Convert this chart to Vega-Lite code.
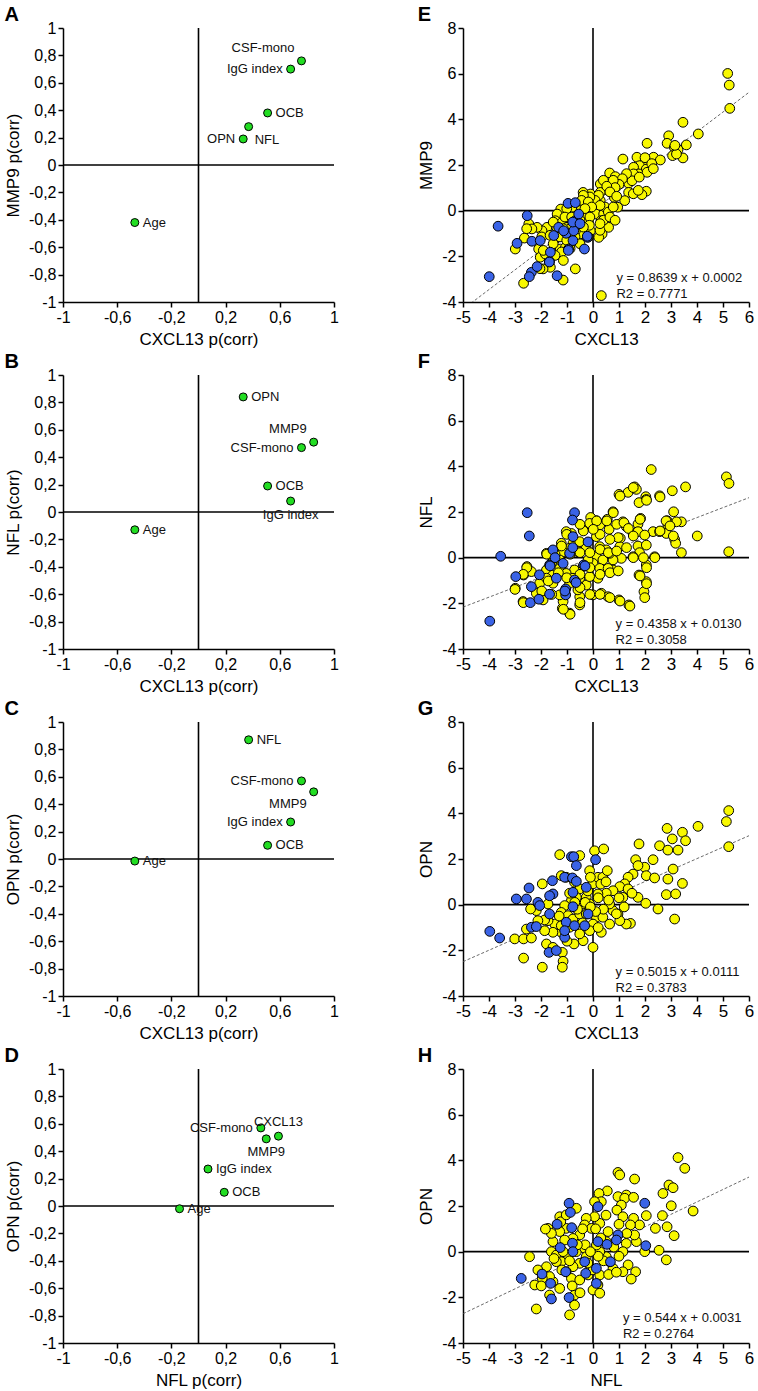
{
"$schema": "https://vega.github.io/schema/vega-lite/v6.json",
"background": "white",
"padding": {"left": 4, "top": 5, "right": 5, "bottom": 5},
"columns": 2,
"spacing": {"row": 73, "column": 129},
"bounds": "flush",
"resolve": {"scale": {"x": "independent", "y": "independent"}},
"config": {
  "view": {"stroke": null},
  "font": "Liberation Sans",
  "title": {"anchor": "start", "frame": "bounds", "fontSize": 20, "fontWeight": "bold", "font": "Liberation Sans", "color": "#000", "offset": -5},
  "axis": {"domainColor": "#000", "domainWidth": 1.5, "tickColor": "#000", "tickWidth": 1.5, "tickSize": 5, "grid": false,
           "labelFont": "Liberation Sans", "labelFontSize": 16, "labelColor": "#000", "labelPadding": 2,
           "titleFont": "Liberation Sans", "titleFontSize": 17, "titleFontWeight": "normal", "titleColor": "#000",
           "labelFlush": false, "labelOverlap": false, "labelBound": false,
           "labelExpr": "replace(toString(datum.value), '.', ',')"},
  "axisX": {"titlePadding": 6},
  "axisY": {"titlePadding": 6},
  "text": {"font": "Liberation Sans", "color": "#111"}
},
"datasets": {
  "A": [{"label":"CSF-mono","x":0.76,"y":0.76,"pos":"ul"},{"label":"IgG index","x":0.68,"y":0.70,"pos":"l"},{"label":"OCB","x":0.51,"y":0.38,"pos":"r"},{"label":"NFL","x":0.37,"y":0.28,"pos":"br"},{"label":"OPN","x":0.33,"y":0.19,"pos":"l"},{"label":"Age","x":-0.47,"y":-0.42,"pos":"r"}],
  "B": [{"label":"OPN","x":0.33,"y":0.84,"pos":"r"},{"label":"MMP9","x":0.85,"y":0.51,"pos":"ul"},{"label":"CSF-mono","x":0.76,"y":0.47,"pos":"l"},{"label":"OCB","x":0.51,"y":0.19,"pos":"r"},{"label":"IgG index","x":0.68,"y":0.08,"pos":"b"},{"label":"Age","x":-0.47,"y":-0.13,"pos":"r"}],
  "C": [{"label":"NFL","x":0.37,"y":0.87,"pos":"r"},{"label":"CSF-mono","x":0.76,"y":0.57,"pos":"l"},{"label":"MMP9","x":0.85,"y":0.49,"pos":"bl"},{"label":"IgG index","x":0.68,"y":0.27,"pos":"l"},{"label":"OCB","x":0.51,"y":0.10,"pos":"r"},{"label":"Age","x":-0.47,"y":-0.015,"pos":"r"}],
  "D": [{"label":"CSF-mono","x":0.46,"y":0.57,"pos":"l"},{"label":"CXCL13","x":0.59,"y":0.51,"pos":"a"},{"label":"MMP9","x":0.50,"y":0.49,"pos":"b"},{"label":"IgG index","x":0.07,"y":0.27,"pos":"r"},{"label":"OCB","x":0.19,"y":0.10,"pos":"r"},{"label":"Age","x":-0.14,"y":-0.02,"pos":"r"}],
  "Eline": [{"x":-5,"y":-4.3193},{"x":6,"y":5.1836}],
  "Fline": [{"x":-5,"y":-2.166},{"x":6,"y":2.6278}],
  "Gline": [{"x":-5,"y":-2.4964},{"x":6,"y":3.0201}],
  "Hline": [{"x":-5,"y":-2.7169},{"x":6,"y":3.2671}],
  "Etext": [{"x":0.9,"y":-2.95,"t":"y = 0.8639 x + 0.0002"},{"x":0.9,"y":-3.65,"t":"R2 = 0.7771"}],
  "Ftext": [{"x":0.87,"y":-2.92,"t":"y = 0.4358 x + 0.0130"},{"x":0.87,"y":-3.6,"t":"R2 = 0.3058"}],
  "Gtext": [{"x":0.87,"y":-2.96,"t":"y = 0.5015 x + 0.0111"},{"x":0.87,"y":-3.65,"t":"R2 = 0.3783"}],
  "Htext": [{"x":1.15,"y":-2.92,"t":"y = 0.544 x + 0.0031"},{"x":1.15,"y":-3.62,"t":"R2 = 0.2764"}],
  "E": [
{"x":5.18,"y":6.01,"g":"Y"},{"x":5.24,"y":5.5,"g":"Y"},{"x":5.26,"y":4.48,"g":"Y"},{"x":3.46,"y":3.87,"g":"Y"},{"x":4.05,"y":3.36,"g":"Y"},{"x":2.91,"y":3.28,"g":"Y"},{"x":2.85,"y":2.95,"g":"Y"},{"x":3.59,"y":2.88,"g":"Y"},{"x":3.13,"y":2.77,"g":"Y"},{"x":3.27,"y":2.67,"g":"Y"},{"x":3.06,"y":2.41,"g":"Y"},{"x":3.46,"y":2.31,"g":"Y"},{"x":3.21,"y":2.48,"g":"Y"},{"x":2.08,"y":2.95,"g":"Y"},{"x":1.15,"y":2.26,"g":"Y"},{"x":1.69,"y":2.34,"g":"Y"},{"x":2.33,"y":2.34,"g":"Y"},{"x":2.59,"y":2.22,"g":"Y"},{"x":2.01,"y":2.19,"g":"Y"},{"x":1.79,"y":1.97,"g":"Y"},{"x":2.05,"y":1.82,"g":"Y"},{"x":1.56,"y":1.9,"g":"Y"},{"x":1.76,"y":1.61,"g":"Y"},{"x":2.08,"y":1.68,"g":"Y"},{"x":2.05,"y":0.85,"g":"Y"},{"x":1.88,"y":0.7,"g":"Y"},{"x":0.64,"y":1.65,"g":"Y"},{"x":0.86,"y":1.49,"g":"Y"},{"x":1.15,"y":1.31,"g":"Y"},{"x":1.37,"y":1.2,"g":"Y"},{"x":1.56,"y":1.61,"g":"Y"},{"x":1.5,"y":1.31,"g":"Y"},{"x":1.37,"y":0.8,"g":"Y"},{"x":1.22,"y":0.44,"g":"Y"},{"x":0.95,"y":0.15,"g":"Y"},{"x":0.79,"y":0.73,"g":"Y"},{"x":0.67,"y":1.09,"g":"Y"},{"x":0.28,"y":1.17,"g":"Y"},{"x":0.54,"y":0.91,"g":"Y"},{"x":0.82,"y":0.58,"g":"Y"},{"x":0.28,"y":0.8,"g":"Y"},{"x":0.03,"y":0.58,"g":"Y"},{"x":-0.1,"y":0.73,"g":"Y"},{"x":0.28,"y":0.44,"g":"Y"},{"x":0.13,"y":-0.15,"g":"Y"},{"x":0.41,"y":-0.15,"g":"Y"},{"x":0.31,"y":-0.44,"g":"Y"},{"x":0.6,"y":-0.73,"g":"Y"},{"x":0.35,"y":-1.02,"g":"Y"},{"x":0.22,"y":-1.17,"g":"Y"},{"x":-0.38,"y":0.8,"g":"Y"},{"x":-0.49,"y":0.29,"g":"Y"},{"x":-0.51,"y":0,"g":"Y"},{"x":-0.81,"y":0.15,"g":"Y"},{"x":-1.24,"y":0.07,"g":"Y"},{"x":-1.38,"y":-0.15,"g":"Y"},{"x":-1.45,"y":-0.44,"g":"Y"},{"x":-1.19,"y":-0.51,"g":"Y"},{"x":-1.0,"y":-0.29,"g":"Y"},{"x":-0.81,"y":-0.44,"g":"Y"},{"x":-0.62,"y":-0.73,"g":"Y"},{"x":-0.36,"y":-0.29,"g":"Y"},{"x":-0.23,"y":-0.51,"g":"Y"},{"x":-0.1,"y":-0.88,"g":"Y"},{"x":-0.49,"y":-1.02,"g":"Y"},{"x":-0.68,"y":-0.88,"g":"Y"},{"x":-1.0,"y":-0.73,"g":"Y"},{"x":-1.26,"y":-1.02,"g":"Y"},{"x":-1.45,"y":-1.24,"g":"Y"},{"x":-1.26,"y":-1.68,"g":"Y"},{"x":-1.06,"y":-1.61,"g":"Y"},{"x":-0.87,"y":-1.46,"g":"Y"},{"x":-0.68,"y":-2.55,"g":"Y"},{"x":-1.15,"y":-3.04,"g":"Y"},{"x":-1.64,"y":-2.48,"g":"Y"},{"x":-1.92,"y":-2.55,"g":"Y"},{"x":-2.09,"y":-1.68,"g":"Y"},{"x":-2.03,"y":-2.04,"g":"Y"},{"x":-1.83,"y":-1.9,"g":"Y"},{"x":-1.77,"y":-0.73,"g":"Y"},{"x":-1.96,"y":-0.88,"g":"Y"},{"x":-2.15,"y":-0.73,"g":"Y"},{"x":-2.47,"y":-0.58,"g":"Y"},{"x":-2.35,"y":-0.8,"g":"Y"},{"x":-2.64,"y":-1.2,"g":"Y"},{"x":-2.99,"y":-1.68,"g":"Y"},{"x":-2.67,"y":-3.18,"g":"Y"},{"x":0.32,"y":-3.72,"g":"Y"},
{"x":3.15,"y":2.86,"g":"Y"},{"x":2.0,"y":2.32,"g":"Y"},{"x":2.26,"y":2.06,"g":"Y"},{"x":2.32,"y":1.84,"g":"Y"},{"x":1.78,"y":1.47,"g":"Y"},{"x":1.29,"y":1.62,"g":"Y"},{"x":1.13,"y":1.4,"g":"Y"},{"x":1.0,"y":1.15,"g":"Y"},{"x":0.78,"y":1.33,"g":"Y"},{"x":0.85,"y":1.01,"g":"Y"},{"x":0.4,"y":1.33,"g":"Y"},{"x":0.53,"y":1.07,"g":"Y"},{"x":0.65,"y":0.82,"g":"Y"},{"x":0.91,"y":0.63,"g":"Y"},{"x":1.55,"y":0.74,"g":"Y"},{"x":1.74,"y":0.89,"g":"Y"},{"x":0.21,"y":0.67,"g":"Y"},{"x":0.08,"y":0.45,"g":"Y"},{"x":0.46,"y":0.16,"g":"Y"},{"x":0.27,"y":0.23,"g":"Y"},{"x":-0.12,"y":0.6,"g":"Y"},{"x":-0.37,"y":0.67,"g":"Y"},{"x":-0.44,"y":0.45,"g":"Y"},{"x":-0.18,"y":0.38,"g":"Y"},{"x":-0.05,"y":0.16,"g":"Y"},{"x":-0.31,"y":0.09,"g":"Y"},{"x":-1.01,"y":0.09,"g":"Y"},{"x":-1.08,"y":-0.28,"g":"Y"},{"x":-0.82,"y":-0.28,"g":"Y"},{"x":-0.5,"y":-0.42,"g":"Y"},{"x":-0.12,"y":-0.28,"g":"Y"},{"x":-0.14,"y":-0.64,"g":"Y"},{"x":-0.37,"y":-0.72,"g":"Y"},{"x":-0.88,"y":-0.79,"g":"Y"},{"x":-1.14,"y":-0.79,"g":"Y"},{"x":-1.4,"y":-0.72,"g":"Y"},{"x":-1.53,"y":-0.5,"g":"Y"},{"x":-2.55,"y":-0.79,"g":"Y"},{"x":-1.97,"y":-1.15,"g":"Y"},{"x":-1.65,"y":-1.08,"g":"Y"},{"x":-1.53,"y":-1.45,"g":"Y"},{"x":-1.27,"y":-1.15,"g":"Y"},{"x":-1.01,"y":-1.3,"g":"Y"},{"x":-0.69,"y":-1.15,"g":"Y"},{"x":-0.18,"y":-1.15,"g":"Y"},{"x":-0.5,"y":-1.45,"g":"Y"},{"x":-0.88,"y":-1.66,"g":"Y"},{"x":-1.21,"y":-1.81,"g":"Y"},{"x":-1.46,"y":-1.96,"g":"Y"},{"x":-1.91,"y":-1.74,"g":"Y"},{"x":-2.04,"y":-2.54,"g":"Y"},{"x":-1.14,"y":-2.18,"g":"Y"},{"x":0.27,"y":-0.86,"g":"Y"},{"x":0.4,"y":-0.42,"g":"Y"},{"x":0.59,"y":-0.06,"g":"Y"},{"x":0.78,"y":0.16,"g":"Y"},{"x":0.65,"y":-0.28,"g":"Y"},{"x":0.85,"y":-0.42,"g":"Y"},{"x":0.27,"y":-0.57,"g":"Y"},
{"x":-3.65,"y":-0.68,"g":"B"},{"x":-3.99,"y":-2.89,"g":"B"},{"x":-2.92,"y":-1.43,"g":"B"},{"x":-2.53,"y":-0.22,"g":"B"},{"x":-2.35,"y":-1.34,"g":"B"},{"x":-2.03,"y":-1.31,"g":"B"},{"x":-2.37,"y":-2.7,"g":"B"},{"x":-2.45,"y":-2.89,"g":"B"},{"x":-2.15,"y":-2.45,"g":"B"},{"x":-1.67,"y":-2.23,"g":"B"},{"x":-1.64,"y":-1.82,"g":"B"},{"x":-1.51,"y":-1.09,"g":"B"},{"x":-1.38,"y":-2.85,"g":"B"},{"x":-1.03,"y":-0.99,"g":"B"},{"x":-0.94,"y":-1.68,"g":"B"},{"x":-0.77,"y":-1.31,"g":"B"},{"x":-0.74,"y":-0.88,"g":"B"},{"x":-0.68,"y":-0.44,"g":"B"},{"x":-0.55,"y":-0.15,"g":"B"},{"x":-0.96,"y":0.32,"g":"B"},{"x":-0.68,"y":0.35,"g":"B"},{"x":-0.33,"y":-1.68,"g":"B"},{"x":-0.21,"y":-1.17,"g":"B"},{"x":-1.32,"y":-0.73,"g":"B"},{"x":-1.13,"y":-0.88,"g":"B"},{"x":-0.78,"y":-0.5,"g":"B"},{"x":-0.5,"y":-0.57,"g":"B"},{"x":-0.22,"y":-1.12,"g":"B"},{"x":-0.95,"y":-1.74,"g":"B"},{"x":-1.68,"y":-2.25,"g":"B"}
  ],
  "F": [
{"x":5.13,"y":3.54,"g":"Y"},{"x":5.23,"y":3.25,"g":"Y"},{"x":5.22,"y":0.26,"g":"Y"},{"x":3.56,"y":3.1,"g":"Y"},{"x":3.05,"y":2.93,"g":"Y"},{"x":2.24,"y":3.86,"g":"Y"},{"x":1.6,"y":3.1,"g":"Y"},{"x":1.35,"y":2.86,"g":"Y"},{"x":1.67,"y":2.99,"g":"Y"},{"x":1.0,"y":2.77,"g":"Y"},{"x":2.03,"y":2.67,"g":"Y"},{"x":2.05,"y":2.55,"g":"Y"},{"x":2.56,"y":2.71,"g":"Y"},{"x":1.77,"y":2.41,"g":"Y"},{"x":3.1,"y":2.01,"g":"Y"},{"x":3.4,"y":1.57,"g":"Y"},{"x":3.21,"y":1.57,"g":"Y"},{"x":2.85,"y":1.62,"g":"Y"},{"x":2.88,"y":1.43,"g":"Y"},{"x":2.82,"y":1.06,"g":"Y"},{"x":3.14,"y":0.8,"g":"Y"},{"x":3.18,"y":0.63,"g":"Y"},{"x":3.4,"y":0.22,"g":"Y"},{"x":4.01,"y":0.95,"g":"Y"},{"x":2.31,"y":1.14,"g":"Y"},{"x":2.56,"y":1.14,"g":"Y"},{"x":1.83,"y":1.72,"g":"Y"},{"x":1.73,"y":1.47,"g":"Y"},{"x":1.54,"y":1.06,"g":"Y"},{"x":1.15,"y":1.57,"g":"Y"},{"x":1.28,"y":1.36,"g":"Y"},{"x":1.73,"y":1.14,"g":"Y"},{"x":1.99,"y":0.99,"g":"Y"},{"x":1.73,"y":0.51,"g":"Y"},{"x":1.79,"y":0.22,"g":"Y"},{"x":1.54,"y":0.04,"g":"Y"},{"x":2.37,"y":0.04,"g":"Y"},{"x":2.05,"y":-0.32,"g":"Y"},{"x":1.77,"y":-0.76,"g":"Y"},{"x":2.05,"y":-1.05,"g":"Y"},{"x":1.96,"y":-1.49,"g":"Y"},{"x":1.99,"y":-1.75,"g":"Y"},{"x":1.38,"y":-2.07,"g":"Y"},{"x":1.0,"y":-1.85,"g":"Y"},{"x":2.05,"y":0.55,"g":"Y"},{"x":1.05,"y":0.85,"g":"Y"},{"x":1.03,"y":0.48,"g":"Y"},{"x":1.09,"y":-0.03,"g":"Y"},{"x":0.77,"y":-0.1,"g":"Y"},{"x":0.77,"y":-0.54,"g":"Y"},{"x":0.77,"y":2.01,"g":"Y"},{"x":0.55,"y":1.68,"g":"Y"},{"x":0.62,"y":1.24,"g":"Y"},{"x":0.13,"y":1.62,"g":"Y"},{"x":-0.09,"y":1.76,"g":"Y"},{"x":-0.13,"y":1.5,"g":"Y"},{"x":0.26,"y":1.43,"g":"Y"},{"x":0.13,"y":0.92,"g":"Y"},{"x":-0.38,"y":1.21,"g":"Y"},{"x":-0.83,"y":1.06,"g":"Y"},{"x":-1.03,"y":1.14,"g":"Y"},{"x":-1.22,"y":0.63,"g":"Y"},{"x":-0.77,"y":0.63,"g":"Y"},{"x":-0.51,"y":0.7,"g":"Y"},{"x":-0.26,"y":0.41,"g":"Y"},{"x":0.26,"y":0.48,"g":"Y"},{"x":0.51,"y":0.34,"g":"Y"},{"x":0.64,"y":0.19,"g":"Y"},{"x":0.13,"y":0.04,"g":"Y"},{"x":0.38,"y":-0.1,"g":"Y"},{"x":0,"y":-0.25,"g":"Y"},{"x":0.26,"y":-0.47,"g":"Y"},{"x":0.58,"y":-0.47,"g":"Y"},{"x":0.19,"y":-0.9,"g":"Y"},{"x":0.32,"y":-1.56,"g":"Y"},{"x":0.58,"y":-1.71,"g":"Y"},{"x":0,"y":-1.63,"g":"Y"},{"x":-0.51,"y":-1.71,"g":"Y"},{"x":-0.26,"y":-1.2,"g":"Y"},{"x":-0.13,"y":-0.83,"g":"Y"},{"x":-0.51,"y":-0.9,"g":"Y"},{"x":-0.71,"y":-0.54,"g":"Y"},{"x":-0.38,"y":-0.39,"g":"Y"},{"x":-0.19,"y":-0.1,"g":"Y"},{"x":-0.58,"y":0.26,"g":"Y"},{"x":-0.9,"y":0.41,"g":"Y"},{"x":-1.15,"y":0.26,"g":"Y"},{"x":-1.28,"y":-0.1,"g":"Y"},{"x":-1.54,"y":-0.1,"g":"Y"},{"x":-1.79,"y":0.19,"g":"Y"},{"x":-1.6,"y":-0.25,"g":"Y"},{"x":-1.79,"y":-0.54,"g":"Y"},{"x":-1.54,"y":-0.76,"g":"Y"},{"x":-1.28,"y":-0.47,"g":"Y"},{"x":-1.03,"y":-0.69,"g":"Y"},{"x":-0.9,"y":-1.12,"g":"Y"},{"x":-0.77,"y":-0.9,"g":"Y"},{"x":-0.58,"y":-1.41,"g":"Y"},{"x":-0.51,"y":-2.07,"g":"Y"},{"x":-0.9,"y":-2.43,"g":"Y"},{"x":-1.18,"y":-2.22,"g":"Y"},{"x":-1.15,"y":-1.92,"g":"Y"},{"x":-1.28,"y":-1.63,"g":"Y"},{"x":-1.54,"y":-1.12,"g":"Y"},{"x":-1.99,"y":-1.49,"g":"Y"},{"x":-1.92,"y":-1.85,"g":"Y"},{"x":-2.18,"y":-1.56,"g":"Y"},{"x":-2.05,"y":-1.12,"g":"Y"},{"x":-1.79,"y":-0.9,"g":"Y"},{"x":-2.54,"y":-0.39,"g":"Y"},{"x":-2.67,"y":-0.76,"g":"Y"},{"x":-2.37,"y":-0.61,"g":"Y"},{"x":-2.99,"y":-1.34,"g":"Y"},{"x":-2.69,"y":-1.92,"g":"Y"},
{"x":1.04,"y":2.7,"g":"Y"},{"x":1.55,"y":3.07,"g":"Y"},{"x":2.06,"y":2.51,"g":"Y"},{"x":2.58,"y":2.66,"g":"Y"},{"x":0.78,"y":1.97,"g":"Y"},{"x":0.14,"y":1.61,"g":"Y"},{"x":0.53,"y":1.61,"g":"Y"},{"x":0.91,"y":1.46,"g":"Y"},{"x":1.19,"y":1.53,"g":"Y"},{"x":1.36,"y":1.28,"g":"Y"},{"x":1.81,"y":1.68,"g":"Y"},{"x":2.58,"y":1.17,"g":"Y"},{"x":2.81,"y":1.61,"g":"Y"},{"x":3.09,"y":0.95,"g":"Y"},{"x":2.96,"y":1.39,"g":"Y"},{"x":1.55,"y":0.95,"g":"Y"},{"x":0.97,"y":0.88,"g":"Y"},{"x":0.65,"y":0.8,"g":"Y"},{"x":0.27,"y":1.02,"g":"Y"},{"x":0.01,"y":1.24,"g":"Y"},{"x":-0.37,"y":1.17,"g":"Y"},{"x":-0.5,"y":1.46,"g":"Y"},{"x":-1.01,"y":1.02,"g":"Y"},{"x":-1.21,"y":0.51,"g":"Y"},{"x":-1.46,"y":0.15,"g":"Y"},{"x":-1.78,"y":0.15,"g":"Y"},{"x":-0.88,"y":0.15,"g":"Y"},{"x":-0.5,"y":0.22,"g":"Y"},{"x":-0.12,"y":0.22,"g":"Y"},{"x":0.27,"y":0.36,"g":"Y"},{"x":0.59,"y":0.22,"g":"Y"},{"x":0.91,"y":0.29,"g":"Y"},{"x":1.29,"y":0.44,"g":"Y"},{"x":1.55,"y":0,"g":"Y"},{"x":1.94,"y":0,"g":"Y"},{"x":2.38,"y":0,"g":"Y"},{"x":1.81,"y":-0.8,"g":"Y"},{"x":2.06,"y":-0.44,"g":"Y"},{"x":2.06,"y":-1.14,"g":"Y"},{"x":-2.55,"y":-0.44,"g":"Y"},{"x":-2.68,"y":-0.73,"g":"Y"},{"x":-3.0,"y":-1.39,"g":"Y"},{"x":-2.68,"y":-1.97,"g":"Y"},{"x":-1.72,"y":-1.02,"g":"Y"},{"x":-1.33,"y":-0.66,"g":"Y"},{"x":-1.01,"y":-0.88,"g":"Y"},{"x":-0.5,"y":-0.73,"g":"Y"},{"x":-0.12,"y":-0.44,"g":"Y"},{"x":0.27,"y":-0.73,"g":"Y"},{"x":0.65,"y":-0.66,"g":"Y"},{"x":0.97,"y":-0.58,"g":"Y"},{"x":-0.5,"y":-1.31,"g":"Y"},{"x":-0.12,"y":-1.61,"g":"Y"},{"x":0.27,"y":-1.61,"g":"Y"},{"x":0.65,"y":-1.75,"g":"Y"},{"x":1.04,"y":-1.9,"g":"Y"},{"x":1.42,"y":-2.12,"g":"Y"},{"x":-0.5,"y":-1.97,"g":"Y"},{"x":-0.88,"y":-2.48,"g":"Y"},{"x":-1.14,"y":-2.26,"g":"Y"},{"x":-1.59,"y":-1.61,"g":"Y"},{"x":-1.97,"y":-1.46,"g":"Y"},
{"x":-2.53,"y":1.97,"g":"B"},{"x":-2.45,"y":0.95,"g":"B"},{"x":-3.55,"y":0.06,"g":"B"},{"x":-2.97,"y":-0.83,"g":"B"},{"x":-2.37,"y":-1.27,"g":"B"},{"x":-2.41,"y":-1.97,"g":"B"},{"x":-3.97,"y":-2.78,"g":"B"},{"x":-2.06,"y":-0.75,"g":"B"},{"x":-1.67,"y":-0.32,"g":"B"},{"x":-1.67,"y":-1.6,"g":"B"},{"x":-2.08,"y":-1.82,"g":"B"},{"x":-1.41,"y":-0.9,"g":"B"},{"x":-1.05,"y":-1.37,"g":"B"},{"x":-1.05,"y":-1.63,"g":"B"},{"x":-0.71,"y":1.97,"g":"B"},{"x":-0.79,"y":1.65,"g":"B"},{"x":-0.77,"y":0.92,"g":"B"},{"x":-0.9,"y":0.19,"g":"B"},{"x":-0.71,"y":-0.98,"g":"B"},{"x":-0.36,"y":-0.32,"g":"B"},{"x":-0.19,"y":0.69,"g":"B"},{"x":-1.15,"y":-0.25,"g":"B"},{"x":-1.54,"y":0.34,"g":"B"},{"x":-0.78,"y":0.44,"g":"B"},{"x":-1.65,"y":-0.36,"g":"B"},{"x":-1.08,"y":-1.46,"g":"B"},{"x":-0.65,"y":-1.09,"g":"B"},{"x":-0.31,"y":-0.36,"g":"B"},{"x":-1.46,"y":0,"g":"B"}
  ],
  "G": [
{"x":5.22,"y":4.12,"g":"Y"},{"x":5.13,"y":3.64,"g":"Y"},{"x":5.22,"y":2.54,"g":"Y"},{"x":4.04,"y":3.43,"g":"Y"},{"x":2.85,"y":3.34,"g":"Y"},{"x":3.44,"y":3.17,"g":"Y"},{"x":3.56,"y":2.8,"g":"Y"},{"x":3.05,"y":2.88,"g":"Y"},{"x":2.56,"y":2.58,"g":"Y"},{"x":2.88,"y":2.39,"g":"Y"},{"x":3.27,"y":2.39,"g":"Y"},{"x":1.77,"y":2.66,"g":"Y"},{"x":2.31,"y":1.97,"g":"Y"},{"x":1.99,"y":1.64,"g":"Y"},{"x":1.64,"y":1.97,"g":"Y"},{"x":1.73,"y":1.71,"g":"Y"},{"x":1.54,"y":1.34,"g":"Y"},{"x":1.35,"y":1.2,"g":"Y"},{"x":2.05,"y":1.27,"g":"Y"},{"x":2.37,"y":1.17,"g":"Y"},{"x":3.08,"y":1.56,"g":"Y"},{"x":3.44,"y":0.93,"g":"Y"},{"x":2.88,"y":1.12,"g":"Y"},{"x":2.82,"y":0.44,"g":"Y"},{"x":3.18,"y":0.47,"g":"Y"},{"x":3.14,"y":-0.63,"g":"Y"},{"x":2.5,"y":-0.19,"g":"Y"},{"x":2.03,"y":0.06,"g":"Y"},{"x":1.73,"y":0.32,"g":"Y"},{"x":1.22,"y":0.91,"g":"Y"},{"x":1.03,"y":0.79,"g":"Y"},{"x":0.77,"y":0.61,"g":"Y"},{"x":1.35,"y":0.69,"g":"Y"},{"x":1.15,"y":0.32,"g":"Y"},{"x":1.44,"y":-0.82,"g":"Y"},{"x":1.28,"y":-0.85,"g":"Y"},{"x":0.96,"y":-0.41,"g":"Y"},{"x":1.03,"y":-0.7,"g":"Y"},{"x":0.77,"y":-0.26,"g":"Y"},{"x":0.64,"y":0.03,"g":"Y"},{"x":0.51,"y":0.5,"g":"Y"},{"x":0.19,"y":0.47,"g":"Y"},{"x":0,"y":0.91,"g":"Y"},{"x":0.19,"y":1.2,"g":"Y"},{"x":0.38,"y":1.2,"g":"Y"},{"x":-0.13,"y":1.49,"g":"Y"},{"x":-0.1,"y":1.2,"g":"Y"},{"x":0.06,"y":2.36,"g":"Y"},{"x":0.41,"y":2.44,"g":"Y"},{"x":0.55,"y":1.49,"g":"Y"},{"x":-0.51,"y":2.15,"g":"Y"},{"x":-1.28,"y":2.19,"g":"Y"},{"x":-1.22,"y":1.27,"g":"Y"},{"x":-1.03,"y":1.2,"g":"Y"},{"x":-0.71,"y":0.98,"g":"Y"},{"x":-0.51,"y":0.69,"g":"Y"},{"x":-0.26,"y":0.32,"g":"Y"},{"x":-0.13,"y":0.03,"g":"Y"},{"x":-0.38,"y":0.03,"g":"Y"},{"x":-0.64,"y":0.32,"g":"Y"},{"x":-0.83,"y":0.18,"g":"Y"},{"x":-1.09,"y":-0.04,"g":"Y"},{"x":-1.22,"y":-0.34,"g":"Y"},{"x":-0.96,"y":-0.48,"g":"Y"},{"x":-0.77,"y":-0.63,"g":"Y"},{"x":-0.51,"y":-0.41,"g":"Y"},{"x":-0.26,"y":-0.41,"g":"Y"},{"x":0.13,"y":-0.55,"g":"Y"},{"x":0.38,"y":-0.55,"g":"Y"},{"x":0.64,"y":-0.85,"g":"Y"},{"x":0.32,"y":-1.21,"g":"Y"},{"x":0,"y":-0.85,"g":"Y"},{"x":-0.13,"y":-1.14,"g":"Y"},{"x":0,"y":-1.87,"g":"Y"},{"x":-0.38,"y":-1.58,"g":"Y"},{"x":-0.51,"y":-1.28,"g":"Y"},{"x":-0.73,"y":-1.72,"g":"Y"},{"x":-0.9,"y":-0.99,"g":"Y"},{"x":-1.22,"y":-1.21,"g":"Y"},{"x":-1.47,"y":-0.85,"g":"Y"},{"x":-1.54,"y":-1.21,"g":"Y"},{"x":-1.73,"y":-0.7,"g":"Y"},{"x":-1.86,"y":-1.14,"g":"Y"},{"x":-1.79,"y":-1.72,"g":"Y"},{"x":-1.54,"y":-1.87,"g":"Y"},{"x":-1.18,"y":-2.09,"g":"Y"},{"x":-1.15,"y":-2.48,"g":"Y"},{"x":-1.18,"y":-2.74,"g":"Y"},{"x":-1.95,"y":-2.74,"g":"Y"},{"x":-2.67,"y":-2.34,"g":"Y"},{"x":-3.01,"y":-1.5,"g":"Y"},{"x":-2.67,"y":-1.5,"g":"Y"},{"x":-2.37,"y":-1.46,"g":"Y"},{"x":-1.95,"y":0.91,"g":"Y"},{"x":-1.73,"y":0.03,"g":"Y"},{"x":-2.18,"y":-0.26,"g":"Y"},{"x":-2.4,"y":-0.19,"g":"Y"},{"x":-2.56,"y":-1.07,"g":"Y"},{"x":-1.86,"y":-0.67,"g":"Y"},{"x":-2.12,"y":-0.7,"g":"Y"},{"x":-1.22,"y":-0.92,"g":"Y"},
{"x":-0.3,"y":0.1,"g":"Y"},{"x":0.2,"y":0.3,"g":"Y"},{"x":0.4,"y":-0.2,"g":"Y"},{"x":-0.6,"y":-0.2,"g":"Y"},{"x":0.1,"y":-0.3,"g":"Y"},{"x":0.6,"y":0.2,"g":"Y"},{"x":-0.9,"y":0.5,"g":"Y"},{"x":-0.4,"y":-0.8,"g":"Y"},{"x":0.3,"y":0.9,"g":"Y"},{"x":1.0,"y":0.3,"g":"Y"},{"x":-1.3,"y":-0.5,"g":"Y"},{"x":0.9,"y":-0.4,"g":"Y"},{"x":-0.2,"y":0.6,"g":"Y"},{"x":1.5,"y":0.5,"g":"Y"},{"x":-1.0,"y":-1.6,"g":"Y"},{"x":0.5,"y":1.0,"g":"Y"},{"x":0.2,"y":-1.0,"g":"Y"},{"x":-0.7,"y":0.1,"g":"Y"},{"x":1.2,"y":-0.1,"g":"Y"},{"x":-0.1,"y":-0.1,"g":"Y"},
{"x":-3.97,"y":-1.17,"g":"B"},{"x":-3.59,"y":-1.46,"g":"B"},{"x":-2.95,"y":0.25,"g":"B"},{"x":-2.46,"y":0.73,"g":"B"},{"x":-2.56,"y":0.25,"g":"B"},{"x":-2.12,"y":0.1,"g":"B"},{"x":-2.05,"y":-0.04,"g":"B"},{"x":-2.37,"y":-0.99,"g":"B"},{"x":-2.18,"y":-0.96,"g":"B"},{"x":-1.67,"y":-0.41,"g":"B"},{"x":-1.56,"y":1.05,"g":"B"},{"x":-1.54,"y":0.47,"g":"B"},{"x":-1.67,"y":0.39,"g":"B"},{"x":-1.09,"y":1.2,"g":"B"},{"x":-0.79,"y":1.17,"g":"B"},{"x":-0.83,"y":2.1,"g":"B"},{"x":-0.74,"y":2.1,"g":"B"},{"x":-0.64,"y":1.71,"g":"B"},{"x":-0.64,"y":1.02,"g":"B"},{"x":-0.77,"y":0.54,"g":"B"},{"x":-0.77,"y":-0.09,"g":"B"},{"x":-1.03,"y":-0.77,"g":"B"},{"x":-0.71,"y":-0.92,"g":"B"},{"x":-0.32,"y":-0.92,"g":"B"},{"x":-0.19,"y":-0.41,"g":"B"},{"x":-0.26,"y":0.76,"g":"B"},{"x":0.1,"y":1.97,"g":"B"},{"x":-1.69,"y":-2.09,"g":"B"},{"x":-1.41,"y":-2.01,"g":"B"},{"x":-1.09,"y":-1.43,"g":"B"},{"x":-1.09,"y":-1.14,"g":"B"}
  ],
  "H": [
{"x":3.27,"y":4.12,"g":"Y"},{"x":3.53,"y":3.65,"g":"Y"},{"x":0.96,"y":3.47,"g":"Y"},{"x":1.03,"y":3.36,"g":"Y"},{"x":1.6,"y":3.18,"g":"Y"},{"x":0.55,"y":2.66,"g":"Y"},{"x":0.23,"y":2.55,"g":"Y"},{"x":0.32,"y":2.19,"g":"Y"},{"x":0.06,"y":2.19,"g":"Y"},{"x":0.96,"y":2.41,"g":"Y"},{"x":1.28,"y":2.48,"g":"Y"},{"x":1.22,"y":2.34,"g":"Y"},{"x":1.56,"y":2.38,"g":"Y"},{"x":1.09,"y":2.04,"g":"Y"},{"x":0.92,"y":1.82,"g":"Y"},{"x":1.15,"y":1.53,"g":"Y"},{"x":1.56,"y":1.46,"g":"Y"},{"x":1.79,"y":1.17,"g":"Y"},{"x":1.44,"y":1.17,"g":"Y"},{"x":1.0,"y":1.2,"g":"Y"},{"x":2.05,"y":1.58,"g":"Y"},{"x":2.4,"y":1.02,"g":"Y"},{"x":2.85,"y":1.09,"g":"Y"},{"x":2.69,"y":2.55,"g":"Y"},{"x":2.92,"y":2.92,"g":"Y"},{"x":3.08,"y":2.8,"g":"Y"},{"x":3.01,"y":2.01,"g":"Y"},{"x":3.85,"y":1.78,"g":"Y"},{"x":2.67,"y":1.58,"g":"Y"},{"x":3.12,"y":0.7,"g":"Y"},{"x":2.54,"y":0.06,"g":"Y"},{"x":2.82,"y":-0.36,"g":"Y"},{"x":1.99,"y":0,"g":"Y"},{"x":1.67,"y":0.44,"g":"Y"},{"x":1.6,"y":0.73,"g":"Y"},{"x":1.28,"y":0.36,"g":"Y"},{"x":1.15,"y":0,"g":"Y"},{"x":1.35,"y":-0.58,"g":"Y"},{"x":1.64,"y":-0.88,"g":"Y"},{"x":1.47,"y":-1.2,"g":"Y"},{"x":1.15,"y":-0.88,"g":"Y"},{"x":0.77,"y":-0.73,"g":"Y"},{"x":0.64,"y":-0.44,"g":"Y"},{"x":0.51,"y":-0.22,"g":"Y"},{"x":0.26,"y":0,"g":"Y"},{"x":0.13,"y":0.29,"g":"Y"},{"x":0.51,"y":0.44,"g":"Y"},{"x":0.58,"y":0.88,"g":"Y"},{"x":0.26,"y":1.24,"g":"Y"},{"x":0.06,"y":1.53,"g":"Y"},{"x":-0.26,"y":1.46,"g":"Y"},{"x":-0.32,"y":1.17,"g":"Y"},{"x":-0.06,"y":1.02,"g":"Y"},{"x":-0.51,"y":0.73,"g":"Y"},{"x":-0.77,"y":0.58,"g":"Y"},{"x":-1.03,"y":1.02,"g":"Y"},{"x":-1.28,"y":0.88,"g":"Y"},{"x":-1.09,"y":0.51,"g":"Y"},{"x":-1.28,"y":1.53,"g":"Y"},{"x":-1.24,"y":1.31,"g":"Y"},{"x":-0.64,"y":1.9,"g":"Y"},{"x":-1.03,"y":1.61,"g":"Y"},{"x":-1.54,"y":0.44,"g":"Y"},{"x":-1.6,"y":0,"g":"Y"},{"x":-1.41,"y":-0.15,"g":"Y"},{"x":-1.22,"y":-0.44,"g":"Y"},{"x":-0.96,"y":-0.15,"g":"Y"},{"x":-0.64,"y":0,"g":"Y"},{"x":-0.32,"y":0.15,"g":"Y"},{"x":-0.26,"y":-0.22,"g":"Y"},{"x":-0.51,"y":-0.51,"g":"Y"},{"x":-0.77,"y":-0.66,"g":"Y"},{"x":-1.03,"y":-0.88,"g":"Y"},{"x":-0.83,"y":-1.17,"g":"Y"},{"x":-0.51,"y":-1.24,"g":"Y"},{"x":-0.19,"y":-1.02,"g":"Y"},{"x":0,"y":-0.8,"g":"Y"},{"x":0.26,"y":-1.02,"g":"Y"},{"x":0.19,"y":-1.46,"g":"Y"},{"x":0,"y":-1.68,"g":"Y"},{"x":0.26,"y":-1.82,"g":"Y"},{"x":-0.71,"y":-1.9,"g":"Y"},{"x":-0.71,"y":-2.34,"g":"Y"},{"x":-0.9,"y":-2.77,"g":"Y"},{"x":-1.28,"y":-1.61,"g":"Y"},{"x":-1.54,"y":-1.31,"g":"Y"},{"x":-1.67,"y":-1.09,"g":"Y"},{"x":-1.79,"y":-0.66,"g":"Y"},{"x":-1.73,"y":1.02,"g":"Y"},{"x":-1.6,"y":0.8,"g":"Y"},{"x":-1.83,"y":0.99,"g":"Y"},{"x":-2.12,"y":-0.8,"g":"Y"},{"x":-1.95,"y":-1.17,"g":"Y"},{"x":-2.24,"y":-1.46,"g":"Y"},{"x":-1.99,"y":-1.5,"g":"Y"},{"x":-2.18,"y":-2.51,"g":"Y"},{"x":-2.44,"y":-0.22,"g":"Y"},{"x":-1.67,"y":-1.9,"g":"Y"},{"x":-1.41,"y":-0.44,"g":"Y"},{"x":-1.15,"y":0,"g":"Y"},
{"x":-0.3,"y":0.3,"g":"Y"},{"x":0.3,"y":0.6,"g":"Y"},{"x":-0.6,"y":0.3,"g":"Y"},{"x":0.4,"y":-0.4,"g":"Y"},{"x":-0.2,"y":-0.5,"g":"Y"},{"x":0.1,"y":1.0,"g":"Y"},{"x":0.8,"y":0.2,"g":"Y"},{"x":-0.9,"y":-0.4,"g":"Y"},{"x":-0.4,"y":1.0,"g":"Y"},{"x":0.6,"y":-1.0,"g":"Y"},{"x":-1.2,"y":-0.8,"g":"Y"},{"x":1.0,"y":-0.2,"g":"Y"},{"x":0.2,"y":-0.2,"g":"Y"},{"x":-0.8,"y":-1.5,"g":"Y"},{"x":0.5,"y":1.6,"g":"Y"},{"x":-0.1,"y":0.0,"g":"Y"},{"x":1.3,"y":0.8,"g":"Y"},{"x":-1.5,"y":-0.3,"g":"Y"},{"x":0.9,"y":-0.9,"g":"Y"},{"x":-0.5,"y":-1.8,"g":"Y"},
{"x":-2.76,"y":-1.17,"g":"B"},{"x":-1.96,"y":-0.98,"g":"B"},{"x":-1.63,"y":-1.39,"g":"B"},{"x":-1.6,"y":-2.07,"g":"B"},{"x":-1.38,"y":1.2,"g":"B"},{"x":-1.26,"y":0.18,"g":"B"},{"x":-1.05,"y":-0.88,"g":"B"},{"x":-0.92,"y":2.12,"g":"B"},{"x":-0.87,"y":1.72,"g":"B"},{"x":-0.82,"y":1.05,"g":"B"},{"x":-0.79,"y":0.37,"g":"B"},{"x":-0.77,"y":0,"g":"B"},{"x":-0.92,"y":-2.01,"g":"B"},{"x":-0.32,"y":-0.44,"g":"B"},{"x":-0.28,"y":-0.95,"g":"B"},{"x":0.13,"y":-1.39,"g":"B"},{"x":0.13,"y":-0.73,"g":"B"},{"x":0.19,"y":0.44,"g":"B"},{"x":0.54,"y":0.32,"g":"B"},{"x":0.67,"y":-0.44,"g":"B"},{"x":0.96,"y":0.73,"g":"B"},{"x":0.9,"y":0.51,"g":"B"},{"x":1.99,"y":2.12,"g":"B"},{"x":2.03,"y":0.26,"g":"B"},{"x":0.19,"y":1.97,"g":"B"}
  ]
},
"concat": [
{
 "width": 271, "height": 274, "title": "A",
 "layer": [
  {"data": {"values": [{}]}, "mark": {"type": "rule", "color": "#000", "strokeWidth": 1.6}, "encoding": {"x": {"datum": 0, "type": "quantitative"}}},
  {"data": {"values": [{}]}, "mark": {"type": "rule", "color": "#000", "strokeWidth": 1.6}, "encoding": {"y": {"datum": 0, "type": "quantitative"}}},
  {"data": {"name": "A"}, "mark": {"type": "circle", "size": 64, "fill": "#22dd22", "stroke": "#000", "strokeWidth": 1, "opacity": 1},
   "encoding": {
    "x": {"field": "x", "type": "quantitative", "scale": {"domain": [-1, 1], "nice": false, "zero": false}, "axis": {"title": "CXCL13 p(corr)", "tickCount": 30, "values": [-1, -0.6, -0.2, 0.2, 0.6, 1]}},
    "y": {"field": "y", "type": "quantitative", "scale": {"domain": [-1, 1], "nice": false, "zero": false}, "axis": {"title": "MMP9 p(corr)", "tickCount": 30, "values": [-1, -0.8, -0.6, -0.4, -0.2, 0, 0.2, 0.4, 0.6, 0.8, 1]}}}},
  {"data": {"name": "A"}, "transform": [{"filter": "datum.pos === 'r'"}], "mark": {"type": "text", "align": "left", "baseline": "middle", "dx": 8, "fontSize": 13}, "encoding": {"x": {"field": "x", "type": "quantitative"}, "y": {"field": "y", "type": "quantitative"}, "text": {"field": "label"}}},
  {"data": {"name": "A"}, "transform": [{"filter": "datum.pos === 'l'"}], "mark": {"type": "text", "align": "right", "baseline": "middle", "dx": -8, "fontSize": 13}, "encoding": {"x": {"field": "x", "type": "quantitative"}, "y": {"field": "y", "type": "quantitative"}, "text": {"field": "label"}}},
  {"data": {"name": "A"}, "transform": [{"filter": "datum.pos === 'ul'"}], "mark": {"type": "text", "align": "right", "baseline": "middle", "dx": -7, "dy": -13, "fontSize": 13}, "encoding": {"x": {"field": "x", "type": "quantitative"}, "y": {"field": "y", "type": "quantitative"}, "text": {"field": "label"}}},
  {"data": {"name": "A"}, "transform": [{"filter": "datum.pos === 'br'"}], "mark": {"type": "text", "align": "left", "baseline": "middle", "dx": 6, "dy": 13, "fontSize": 13}, "encoding": {"x": {"field": "x", "type": "quantitative"}, "y": {"field": "y", "type": "quantitative"}, "text": {"field": "label"}}}
 ]
},
{
 "width": 286, "height": 274, "title": "E",
 "layer": [
  {"data": {"values": [{}]}, "mark": {"type": "rule", "color": "#000", "strokeWidth": 1.6}, "encoding": {"x": {"datum": 0, "type": "quantitative"}}},
  {"data": {"values": [{}]}, "mark": {"type": "rule", "color": "#000", "strokeWidth": 1.6}, "encoding": {"y": {"datum": 0, "type": "quantitative"}}},
  {"data": {"name": "Eline"}, "mark": {"type": "line", "clip": true, "color": "#444", "strokeWidth": 0.8, "strokeDash": [3, 2]}, "encoding": {"x": {"field": "x", "type": "quantitative"}, "y": {"field": "y", "type": "quantitative"}}},
  {"data": {"name": "E"}, "mark": {"type": "circle", "size": 95, "stroke": "#000", "strokeWidth": 1, "opacity": 1},
   "encoding": {
    "x": {"field": "x", "type": "quantitative", "scale": {"domain": [-5, 6], "nice": false, "zero": false}, "axis": {"title": "CXCL13", "tickCount": 30, "values": [-5, -4, -3, -2, -1, 0, 1, 2, 3, 4, 5, 6], "labelFontSize": 17}},
    "y": {"field": "y", "type": "quantitative", "scale": {"domain": [-4, 8], "nice": false, "zero": false}, "axis": {"title": "MMP9", "tickCount": 30, "values": [-4, -2, 0, 2, 4, 6, 8]}},
    "color": {"field": "g", "type": "nominal", "scale": {"domain": ["Y", "B"], "range": ["#f8f800", "#3a63e6"]}, "legend": null}}},
  {"data": {"name": "Etext"}, "mark": {"type": "text", "align": "left", "baseline": "middle", "fontSize": 13}, "encoding": {"x": {"field": "x", "type": "quantitative"}, "y": {"field": "y", "type": "quantitative"}, "text": {"field": "t"}}}
 ]
},
{
 "width": 271, "height": 274, "title": "B",
 "layer": [
  {"data": {"values": [{}]}, "mark": {"type": "rule", "color": "#000", "strokeWidth": 1.6}, "encoding": {"x": {"datum": 0, "type": "quantitative"}}},
  {"data": {"values": [{}]}, "mark": {"type": "rule", "color": "#000", "strokeWidth": 1.6}, "encoding": {"y": {"datum": 0, "type": "quantitative"}}},
  {"data": {"name": "B"}, "mark": {"type": "circle", "size": 64, "fill": "#22dd22", "stroke": "#000", "strokeWidth": 1, "opacity": 1},
   "encoding": {
    "x": {"field": "x", "type": "quantitative", "scale": {"domain": [-1, 1], "nice": false, "zero": false}, "axis": {"title": "CXCL13 p(corr)", "tickCount": 30, "values": [-1, -0.6, -0.2, 0.2, 0.6, 1]}},
    "y": {"field": "y", "type": "quantitative", "scale": {"domain": [-1, 1], "nice": false, "zero": false}, "axis": {"title": "NFL p(corr)", "tickCount": 30, "values": [-1, -0.8, -0.6, -0.4, -0.2, 0, 0.2, 0.4, 0.6, 0.8, 1]}}}},
  {"data": {"name": "B"}, "transform": [{"filter": "datum.pos === 'r'"}], "mark": {"type": "text", "align": "left", "baseline": "middle", "dx": 8, "fontSize": 13}, "encoding": {"x": {"field": "x", "type": "quantitative"}, "y": {"field": "y", "type": "quantitative"}, "text": {"field": "label"}}},
  {"data": {"name": "B"}, "transform": [{"filter": "datum.pos === 'l'"}], "mark": {"type": "text", "align": "right", "baseline": "middle", "dx": -8, "fontSize": 13}, "encoding": {"x": {"field": "x", "type": "quantitative"}, "y": {"field": "y", "type": "quantitative"}, "text": {"field": "label"}}},
  {"data": {"name": "B"}, "transform": [{"filter": "datum.pos === 'ul'"}], "mark": {"type": "text", "align": "right", "baseline": "middle", "dx": -7, "dy": -13, "fontSize": 13}, "encoding": {"x": {"field": "x", "type": "quantitative"}, "y": {"field": "y", "type": "quantitative"}, "text": {"field": "label"}}},
  {"data": {"name": "B"}, "transform": [{"filter": "datum.pos === 'b'"}], "mark": {"type": "text", "align": "center", "baseline": "middle", "dy": 14, "fontSize": 13}, "encoding": {"x": {"field": "x", "type": "quantitative"}, "y": {"field": "y", "type": "quantitative"}, "text": {"field": "label"}}}
 ]
},
{
 "width": 286, "height": 274, "title": "F",
 "layer": [
  {"data": {"values": [{}]}, "mark": {"type": "rule", "color": "#000", "strokeWidth": 1.6}, "encoding": {"x": {"datum": 0, "type": "quantitative"}}},
  {"data": {"values": [{}]}, "mark": {"type": "rule", "color": "#000", "strokeWidth": 1.6}, "encoding": {"y": {"datum": 0, "type": "quantitative"}}},
  {"data": {"name": "Fline"}, "mark": {"type": "line", "clip": true, "color": "#444", "strokeWidth": 0.8, "strokeDash": [3, 2]}, "encoding": {"x": {"field": "x", "type": "quantitative"}, "y": {"field": "y", "type": "quantitative"}}},
  {"data": {"name": "F"}, "mark": {"type": "circle", "size": 95, "stroke": "#000", "strokeWidth": 1, "opacity": 1},
   "encoding": {
    "x": {"field": "x", "type": "quantitative", "scale": {"domain": [-5, 6], "nice": false, "zero": false}, "axis": {"title": "CXCL13", "tickCount": 30, "values": [-5, -4, -3, -2, -1, 0, 1, 2, 3, 4, 5, 6], "labelFontSize": 17}},
    "y": {"field": "y", "type": "quantitative", "scale": {"domain": [-4, 8], "nice": false, "zero": false}, "axis": {"title": "NFL", "tickCount": 30, "values": [-4, -2, 0, 2, 4, 6, 8]}},
    "color": {"field": "g", "type": "nominal", "scale": {"domain": ["Y", "B"], "range": ["#f8f800", "#3a63e6"]}, "legend": null}}},
  {"data": {"name": "Ftext"}, "mark": {"type": "text", "align": "left", "baseline": "middle", "fontSize": 13}, "encoding": {"x": {"field": "x", "type": "quantitative"}, "y": {"field": "y", "type": "quantitative"}, "text": {"field": "t"}}}
 ]
},
{
 "width": 271, "height": 274, "title": "C",
 "layer": [
  {"data": {"values": [{}]}, "mark": {"type": "rule", "color": "#000", "strokeWidth": 1.6}, "encoding": {"x": {"datum": 0, "type": "quantitative"}}},
  {"data": {"values": [{}]}, "mark": {"type": "rule", "color": "#000", "strokeWidth": 1.6}, "encoding": {"y": {"datum": 0, "type": "quantitative"}}},
  {"data": {"name": "C"}, "mark": {"type": "circle", "size": 64, "fill": "#22dd22", "stroke": "#000", "strokeWidth": 1, "opacity": 1},
   "encoding": {
    "x": {"field": "x", "type": "quantitative", "scale": {"domain": [-1, 1], "nice": false, "zero": false}, "axis": {"title": "CXCL13 p(corr)", "tickCount": 30, "values": [-1, -0.6, -0.2, 0.2, 0.6, 1]}},
    "y": {"field": "y", "type": "quantitative", "scale": {"domain": [-1, 1], "nice": false, "zero": false}, "axis": {"title": "OPN p(corr)", "tickCount": 30, "values": [-1, -0.8, -0.6, -0.4, -0.2, 0, 0.2, 0.4, 0.6, 0.8, 1]}}}},
  {"data": {"name": "C"}, "transform": [{"filter": "datum.pos === 'r'"}], "mark": {"type": "text", "align": "left", "baseline": "middle", "dx": 8, "fontSize": 13}, "encoding": {"x": {"field": "x", "type": "quantitative"}, "y": {"field": "y", "type": "quantitative"}, "text": {"field": "label"}}},
  {"data": {"name": "C"}, "transform": [{"filter": "datum.pos === 'l'"}], "mark": {"type": "text", "align": "right", "baseline": "middle", "dx": -8, "fontSize": 13}, "encoding": {"x": {"field": "x", "type": "quantitative"}, "y": {"field": "y", "type": "quantitative"}, "text": {"field": "label"}}},
  {"data": {"name": "C"}, "transform": [{"filter": "datum.pos === 'bl'"}], "mark": {"type": "text", "align": "right", "baseline": "middle", "dx": -7, "dy": 12, "fontSize": 13}, "encoding": {"x": {"field": "x", "type": "quantitative"}, "y": {"field": "y", "type": "quantitative"}, "text": {"field": "label"}}}
 ]
},
{
 "width": 286, "height": 274, "title": "G",
 "layer": [
  {"data": {"values": [{}]}, "mark": {"type": "rule", "color": "#000", "strokeWidth": 1.6}, "encoding": {"x": {"datum": 0, "type": "quantitative"}}},
  {"data": {"values": [{}]}, "mark": {"type": "rule", "color": "#000", "strokeWidth": 1.6}, "encoding": {"y": {"datum": 0, "type": "quantitative"}}},
  {"data": {"name": "Gline"}, "mark": {"type": "line", "clip": true, "color": "#444", "strokeWidth": 0.8, "strokeDash": [3, 2]}, "encoding": {"x": {"field": "x", "type": "quantitative"}, "y": {"field": "y", "type": "quantitative"}}},
  {"data": {"name": "G"}, "mark": {"type": "circle", "size": 95, "stroke": "#000", "strokeWidth": 1, "opacity": 1},
   "encoding": {
    "x": {"field": "x", "type": "quantitative", "scale": {"domain": [-5, 6], "nice": false, "zero": false}, "axis": {"title": "CXCL13", "tickCount": 30, "values": [-5, -4, -3, -2, -1, 0, 1, 2, 3, 4, 5, 6], "labelFontSize": 17}},
    "y": {"field": "y", "type": "quantitative", "scale": {"domain": [-4, 8], "nice": false, "zero": false}, "axis": {"title": "OPN", "tickCount": 30, "values": [-4, -2, 0, 2, 4, 6, 8]}},
    "color": {"field": "g", "type": "nominal", "scale": {"domain": ["Y", "B"], "range": ["#f8f800", "#3a63e6"]}, "legend": null}}},
  {"data": {"name": "Gtext"}, "mark": {"type": "text", "align": "left", "baseline": "middle", "fontSize": 13}, "encoding": {"x": {"field": "x", "type": "quantitative"}, "y": {"field": "y", "type": "quantitative"}, "text": {"field": "t"}}}
 ]
},
{
 "width": 271, "height": 274, "title": "D",
 "layer": [
  {"data": {"values": [{}]}, "mark": {"type": "rule", "color": "#000", "strokeWidth": 1.6}, "encoding": {"x": {"datum": 0, "type": "quantitative"}}},
  {"data": {"values": [{}]}, "mark": {"type": "rule", "color": "#000", "strokeWidth": 1.6}, "encoding": {"y": {"datum": 0, "type": "quantitative"}}},
  {"data": {"name": "D"}, "mark": {"type": "circle", "size": 64, "fill": "#22dd22", "stroke": "#000", "strokeWidth": 1, "opacity": 1},
   "encoding": {
    "x": {"field": "x", "type": "quantitative", "scale": {"domain": [-1, 1], "nice": false, "zero": false}, "axis": {"title": "NFL p(corr)", "tickCount": 30, "values": [-1, -0.6, -0.2, 0.2, 0.6, 1]}},
    "y": {"field": "y", "type": "quantitative", "scale": {"domain": [-1, 1], "nice": false, "zero": false}, "axis": {"title": "OPN p(corr)", "tickCount": 30, "values": [-1, -0.8, -0.6, -0.4, -0.2, 0, 0.2, 0.4, 0.6, 0.8, 1]}}}},
  {"data": {"name": "D"}, "transform": [{"filter": "datum.pos === 'r'"}], "mark": {"type": "text", "align": "left", "baseline": "middle", "dx": 8, "fontSize": 13}, "encoding": {"x": {"field": "x", "type": "quantitative"}, "y": {"field": "y", "type": "quantitative"}, "text": {"field": "label"}}},
  {"data": {"name": "D"}, "transform": [{"filter": "datum.pos === 'l'"}], "mark": {"type": "text", "align": "right", "baseline": "middle", "dx": -8, "fontSize": 13}, "encoding": {"x": {"field": "x", "type": "quantitative"}, "y": {"field": "y", "type": "quantitative"}, "text": {"field": "label"}}},
  {"data": {"name": "D"}, "transform": [{"filter": "datum.pos === 'a'"}], "mark": {"type": "text", "align": "center", "baseline": "middle", "dy": -14, "fontSize": 13}, "encoding": {"x": {"field": "x", "type": "quantitative"}, "y": {"field": "y", "type": "quantitative"}, "text": {"field": "label"}}},
  {"data": {"name": "D"}, "transform": [{"filter": "datum.pos === 'b'"}], "mark": {"type": "text", "align": "center", "baseline": "middle", "dy": 13, "fontSize": 13}, "encoding": {"x": {"field": "x", "type": "quantitative"}, "y": {"field": "y", "type": "quantitative"}, "text": {"field": "label"}}}
 ]
},
{
 "width": 286, "height": 274, "title": "H",
 "layer": [
  {"data": {"values": [{}]}, "mark": {"type": "rule", "color": "#000", "strokeWidth": 1.6}, "encoding": {"x": {"datum": 0, "type": "quantitative"}}},
  {"data": {"values": [{}]}, "mark": {"type": "rule", "color": "#000", "strokeWidth": 1.6}, "encoding": {"y": {"datum": 0, "type": "quantitative"}}},
  {"data": {"name": "Hline"}, "mark": {"type": "line", "clip": true, "color": "#444", "strokeWidth": 0.8, "strokeDash": [3, 2]}, "encoding": {"x": {"field": "x", "type": "quantitative"}, "y": {"field": "y", "type": "quantitative"}}},
  {"data": {"name": "H"}, "mark": {"type": "circle", "size": 95, "stroke": "#000", "strokeWidth": 1, "opacity": 1},
   "encoding": {
    "x": {"field": "x", "type": "quantitative", "scale": {"domain": [-5, 6], "nice": false, "zero": false}, "axis": {"title": "NFL", "tickCount": 30, "values": [-5, -4, -3, -2, -1, 0, 1, 2, 3, 4, 5, 6], "labelFontSize": 17}},
    "y": {"field": "y", "type": "quantitative", "scale": {"domain": [-4, 8], "nice": false, "zero": false}, "axis": {"title": "OPN", "tickCount": 30, "values": [-4, -2, 0, 2, 4, 6, 8]}},
    "color": {"field": "g", "type": "nominal", "scale": {"domain": ["Y", "B"], "range": ["#f8f800", "#3a63e6"]}, "legend": null}}},
  {"data": {"name": "Htext"}, "mark": {"type": "text", "align": "left", "baseline": "middle", "fontSize": 13}, "encoding": {"x": {"field": "x", "type": "quantitative"}, "y": {"field": "y", "type": "quantitative"}, "text": {"field": "t"}}}
 ]
}
]
}
